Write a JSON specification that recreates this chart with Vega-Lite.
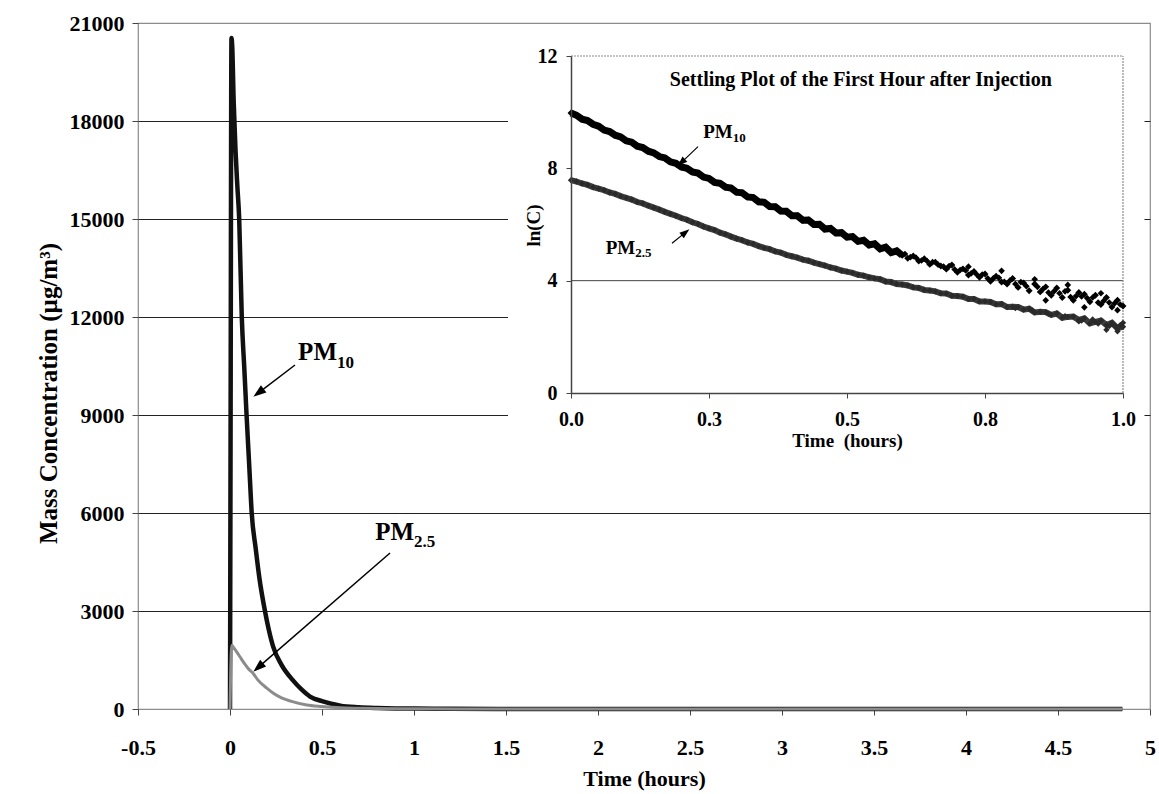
{
  "$schema": "https://vega.github.io/schema/vega-lite/v6.json",
  "autosize": {"type": "none"},
  "width": 1012,
  "height": 686,
  "padding": {"left": 138, "top": 23, "right": 9, "bottom": 85},
  "background": "white",
  "config": {
    "font": "Liberation Serif",
    "view": {"stroke": "#8c8c8c", "strokeWidth": 1.2},
    "axis": {"labelFont": "Liberation Serif", "titleFont": "Liberation Serif", "labelFontWeight": "bold", "titleFontWeight": "bold", "labelColor": "#000", "titleColor": "#000", "labelOverlap": false, "labelFlush": false}
  },
  "datasets": {
    "mainCurves": [
      {"series": "PM10", "t": 0, "c": 0}, {"series": "PM10", "t": 0.003, "c": 8000}, {"series": "PM10", "t": 0.008, "c": 20540}, {"series": "PM10", "t": 0.012, "c": 20300}, {"series": "PM10", "t": 0.02, "c": 18600}, {"series": "PM10", "t": 0.03, "c": 17100}, {"series": "PM10", "t": 0.04, "c": 16000}, {"series": "PM10", "t": 0.05, "c": 15000}, {"series": "PM10", "t": 0.064, "c": 12000}, {"series": "PM10", "t": 0.078, "c": 10400}, {"series": "PM10", "t": 0.09, "c": 9000}, {"series": "PM10", "t": 0.105, "c": 7400}, {"series": "PM10", "t": 0.118, "c": 6000}, {"series": "PM10", "t": 0.14, "c": 4900}, {"series": "PM10", "t": 0.16, "c": 4000}, {"series": "PM10", "t": 0.19, "c": 3000}, {"series": "PM10", "t": 0.21, "c": 2450}, {"series": "PM10", "t": 0.235, "c": 1900}, {"series": "PM10", "t": 0.28, "c": 1350}, {"series": "PM10", "t": 0.34, "c": 890}, {"series": "PM10", "t": 0.39, "c": 590}, {"series": "PM10", "t": 0.435, "c": 380}, {"series": "PM10", "t": 0.5, "c": 240}, {"series": "PM10", "t": 0.55, "c": 160}, {"series": "PM10", "t": 0.6, "c": 100}, {"series": "PM10", "t": 0.7, "c": 52}, {"series": "PM10", "t": 0.8, "c": 30}, {"series": "PM10", "t": 0.9, "c": 18}, {"series": "PM10", "t": 1.0, "c": 12}, {"series": "PM10", "t": 1.2, "c": 6}, {"series": "PM10", "t": 1.5, "c": 3}, {"series": "PM10", "t": 2.0, "c": 1}, {"series": "PM10", "t": 3.0, "c": 0}, {"series": "PM10", "t": 4.85, "c": 0},
      {"series": "PM2.5", "t": 0, "c": 0}, {"series": "PM2.5", "t": 0.004, "c": 1200}, {"series": "PM2.5", "t": 0.01, "c": 1950}, {"series": "PM2.5", "t": 0.02, "c": 1880}, {"series": "PM2.5", "t": 0.04, "c": 1720}, {"series": "PM2.5", "t": 0.054, "c": 1600}, {"series": "PM2.5", "t": 0.08, "c": 1380}, {"series": "PM2.5", "t": 0.1, "c": 1230}, {"series": "PM2.5", "t": 0.127, "c": 1080}, {"series": "PM2.5", "t": 0.15, "c": 900}, {"series": "PM2.5", "t": 0.2, "c": 640}, {"series": "PM2.5", "t": 0.234, "c": 490}, {"series": "PM2.5", "t": 0.28, "c": 340}, {"series": "PM2.5", "t": 0.33, "c": 240}, {"series": "PM2.5", "t": 0.417, "c": 122}, {"series": "PM2.5", "t": 0.5, "c": 75}, {"series": "PM2.5", "t": 0.6, "c": 35}, {"series": "PM2.5", "t": 0.7, "c": 20}, {"series": "PM2.5", "t": 0.8, "c": 12}, {"series": "PM2.5", "t": 1.0, "c": 6}, {"series": "PM2.5", "t": 1.5, "c": 1}, {"series": "PM2.5", "t": 2.0, "c": 0}, {"series": "PM2.5", "t": 4.85, "c": 0}
    ],
    "insetArea": [{"t": 1.511, "t2": 4.97, "c": 7316, "c2": 20800}],
    "mainPM": [{"t": 0.5815, "c": 10684, "label": "PM"}, {"t": 1.0, "c": 5173, "label": "PM"}],
    "mainSub": [{"t": 0.5815, "c": 10450, "label": "10"}, {"t": 1.0, "c": 4960, "label": "2.5"}],
    "mainArrows": [{"t": 0.3533, "c": 10531, "t2": 0.1549, "c2": 9680}, {"t": 0.8696, "c": 4775, "t2": 0.1533, "c2": 1273}],
    "insetPM10": [
      {"t": 0.00, "v": 9.97}, {"t": 0.01, "v": 9.89}, {"t": 0.02, "v": 9.75}, {"t": 0.03, "v": 9.70}, {"t": 0.04, "v": 9.57}, {"t": 0.05, "v": 9.50}, {"t": 0.06, "v": 9.36}, {"t": 0.07, "v": 9.31}, {"t": 0.08, "v": 9.18}, {"t": 0.09, "v": 9.12},
      {"t": 0.10, "v": 8.98}, {"t": 0.11, "v": 8.93}, {"t": 0.12, "v": 8.79}, {"t": 0.13, "v": 8.74}, {"t": 0.14, "v": 8.61}, {"t": 0.15, "v": 8.55}, {"t": 0.16, "v": 8.42}, {"t": 0.17, "v": 8.37}, {"t": 0.18, "v": 8.23}, {"t": 0.19, "v": 8.18},
      {"t": 0.20, "v": 8.05}, {"t": 0.21, "v": 8.00}, {"t": 0.22, "v": 7.87}, {"t": 0.23, "v": 7.83}, {"t": 0.24, "v": 7.69}, {"t": 0.25, "v": 7.64}, {"t": 0.26, "v": 7.50}, {"t": 0.27, "v": 7.47}, {"t": 0.28, "v": 7.33}, {"t": 0.29, "v": 7.30},
      {"t": 0.30, "v": 7.15}, {"t": 0.31, "v": 7.13}, {"t": 0.32, "v": 6.98}, {"t": 0.33, "v": 6.96}, {"t": 0.34, "v": 6.81}, {"t": 0.35, "v": 6.79}, {"t": 0.36, "v": 6.64}, {"t": 0.37, "v": 6.63}, {"t": 0.38, "v": 6.48}, {"t": 0.39, "v": 6.47},
      {"t": 0.40, "v": 6.31}, {"t": 0.41, "v": 6.31}, {"t": 0.42, "v": 6.15}, {"t": 0.43, "v": 6.16}, {"t": 0.44, "v": 6.00}, {"t": 0.45, "v": 6.01}, {"t": 0.46, "v": 5.84}, {"t": 0.47, "v": 5.86}, {"t": 0.48, "v": 5.70}, {"t": 0.49, "v": 5.71},
      {"t": 0.50, "v": 5.55}, {"t": 0.51, "v": 5.57}, {"t": 0.52, "v": 5.40}, {"t": 0.53, "v": 5.44}, {"t": 0.54, "v": 5.27}, {"t": 0.55, "v": 5.31}, {"t": 0.56, "v": 5.13}, {"t": 0.57, "v": 5.19}, {"t": 0.58, "v": 5.00}, {"t": 0.59, "v": 5.06},
      {"t": 0.60, "v": 4.90}, {"t": 0.61, "v": 4.80}, {"t": 0.62, "v": 4.88}, {"t": 0.63, "v": 4.70}, {"t": 0.64, "v": 4.78}, {"t": 0.65, "v": 4.58}, {"t": 0.66, "v": 4.66}, {"t": 0.67, "v": 4.52}, {"t": 0.68, "v": 4.41}, {"t": 0.69, "v": 4.56},
      {"t": 0.70, "v": 4.30}, {"t": 0.71, "v": 4.42}, {"t": 0.72, "v": 4.20}, {"t": 0.73, "v": 4.33}, {"t": 0.74, "v": 4.12}, {"t": 0.75, "v": 4.24}, {"t": 0.76, "v": 3.98}, {"t": 0.77, "v": 4.16}, {"t": 0.78, "v": 3.95}, {"t": 0.79, "v": 3.88},
      {"t": 0.80, "v": 4.08}, {"t": 0.81, "v": 3.76}, {"t": 0.82, "v": 3.92}, {"t": 0.83, "v": 3.64}, {"t": 0.84, "v": 3.88}, {"t": 0.85, "v": 3.60}, {"t": 0.86, "v": 3.78}, {"t": 0.87, "v": 3.48}, {"t": 0.88, "v": 3.74}, {"t": 0.89, "v": 3.40},
      {"t": 0.90, "v": 3.66}, {"t": 0.91, "v": 3.30}, {"t": 0.92, "v": 3.58}, {"t": 0.93, "v": 3.52}, {"t": 0.94, "v": 3.25}, {"t": 0.95, "v": 3.48}, {"t": 0.96, "v": 3.15}, {"t": 0.97, "v": 3.40}, {"t": 0.98, "v": 3.06}, {"t": 0.99, "v": 3.30}, {"t": 1.00, "v": 3.10}
    ],
    "insetPM10Extra": [
      {"t": 0.72, "v": 4.50}, {"t": 0.78, "v": 4.35}, {"t": 0.84, "v": 4.05}, {"t": 0.86, "v": 3.30}, {"t": 0.90, "v": 3.85}, {"t": 0.93, "v": 3.05}, {"t": 0.96, "v": 3.55}, {"t": 0.99, "v": 2.95}, {"t": 0.815, "v": 3.95}, {"t": 0.875, "v": 3.62}, {"t": 0.935, "v": 3.38}, {"t": 0.965, "v": 3.28}, {"t": 0.985, "v": 3.20},
      {"t": 0.645, "v": 4.70}, {"t": 0.675, "v": 4.50}, {"t": 0.705, "v": 4.38}, {"t": 0.735, "v": 4.22}, {"t": 0.765, "v": 4.08}, {"t": 0.795, "v": 4.00}, {"t": 0.825, "v": 3.80}, {"t": 0.855, "v": 3.70}, {"t": 0.885, "v": 3.55}, {"t": 0.915, "v": 3.45}, {"t": 0.945, "v": 3.40}, {"t": 0.975, "v": 3.22}, {"t": 0.995, "v": 3.15},
      {"t": 0.605, "v": 4.95}, {"t": 0.615, "v": 4.84}, {"t": 0.625, "v": 4.82}, {"t": 0.635, "v": 4.72}, {"t": 0.655, "v": 4.66}, {"t": 0.665, "v": 4.57}, {"t": 0.685, "v": 4.52}, {"t": 0.695, "v": 4.40}, {"t": 0.715, "v": 4.36}, {"t": 0.725, "v": 4.26}, {"t": 0.745, "v": 4.22}, {"t": 0.755, "v": 4.08}, {"t": 0.775, "v": 4.10}, {"t": 0.785, "v": 3.96}, {"t": 0.805, "v": 3.88}, {"t": 0.845, "v": 3.78}, {"t": 0.865, "v": 3.58}, {"t": 0.895, "v": 3.62}, {"t": 0.905, "v": 3.42}, {"t": 0.925, "v": 3.44}, {"t": 0.955, "v": 3.22}
    ],
    "insetPM25": [
      {"t": 0.00, "v": 7.58}, {"t": 0.01, "v": 7.53}, {"t": 0.02, "v": 7.46}, {"t": 0.03, "v": 7.41}, {"t": 0.04, "v": 7.33}, {"t": 0.05, "v": 7.28}, {"t": 0.06, "v": 7.22}, {"t": 0.07, "v": 7.14}, {"t": 0.08, "v": 7.09}, {"t": 0.09, "v": 7.01},
      {"t": 0.10, "v": 6.95}, {"t": 0.11, "v": 6.89}, {"t": 0.12, "v": 6.80}, {"t": 0.13, "v": 6.75}, {"t": 0.14, "v": 6.67}, {"t": 0.15, "v": 6.60}, {"t": 0.16, "v": 6.53}, {"t": 0.17, "v": 6.45}, {"t": 0.18, "v": 6.38}, {"t": 0.19, "v": 6.31},
      {"t": 0.20, "v": 6.23}, {"t": 0.21, "v": 6.17}, {"t": 0.22, "v": 6.08}, {"t": 0.23, "v": 6.02}, {"t": 0.24, "v": 5.93}, {"t": 0.25, "v": 5.86}, {"t": 0.26, "v": 5.80}, {"t": 0.27, "v": 5.71}, {"t": 0.28, "v": 5.65}, {"t": 0.29, "v": 5.57},
      {"t": 0.30, "v": 5.50}, {"t": 0.31, "v": 5.44}, {"t": 0.32, "v": 5.36}, {"t": 0.33, "v": 5.31}, {"t": 0.34, "v": 5.23}, {"t": 0.35, "v": 5.17}, {"t": 0.36, "v": 5.12}, {"t": 0.37, "v": 5.04}, {"t": 0.38, "v": 5.00}, {"t": 0.39, "v": 4.92},
      {"t": 0.40, "v": 4.87}, {"t": 0.41, "v": 4.82}, {"t": 0.42, "v": 4.75}, {"t": 0.43, "v": 4.71}, {"t": 0.44, "v": 4.64}, {"t": 0.45, "v": 4.59}, {"t": 0.46, "v": 4.54}, {"t": 0.47, "v": 4.47}, {"t": 0.48, "v": 4.43}, {"t": 0.49, "v": 4.36},
      {"t": 0.50, "v": 4.32}, {"t": 0.51, "v": 4.28}, {"t": 0.52, "v": 4.21}, {"t": 0.53, "v": 4.18}, {"t": 0.54, "v": 4.12}, {"t": 0.55, "v": 4.08}, {"t": 0.56, "v": 4.05}, {"t": 0.57, "v": 3.97}, {"t": 0.58, "v": 3.95}, {"t": 0.59, "v": 3.88},
      {"t": 0.60, "v": 3.86}, {"t": 0.61, "v": 3.83}, {"t": 0.62, "v": 3.76}, {"t": 0.63, "v": 3.74}, {"t": 0.64, "v": 3.67}, {"t": 0.65, "v": 3.65}, {"t": 0.66, "v": 3.62}, {"t": 0.67, "v": 3.55}, {"t": 0.68, "v": 3.54}, {"t": 0.69, "v": 3.46},
      {"t": 0.70, "v": 3.45}, {"t": 0.71, "v": 3.43}, {"t": 0.72, "v": 3.35}, {"t": 0.73, "v": 3.35}, {"t": 0.74, "v": 3.26}, {"t": 0.75, "v": 3.26}, {"t": 0.76, "v": 3.24}, {"t": 0.77, "v": 3.16}, {"t": 0.78, "v": 3.17}, {"t": 0.79, "v": 3.06},
      {"t": 0.80, "v": 3.07}, {"t": 0.81, "v": 3.06}, {"t": 0.82, "v": 2.97}, {"t": 0.83, "v": 3.00}, {"t": 0.84, "v": 2.87}, {"t": 0.85, "v": 2.89}, {"t": 0.86, "v": 2.88}, {"t": 0.87, "v": 2.78}, {"t": 0.88, "v": 2.83}, {"t": 0.89, "v": 2.68},
      {"t": 0.90, "v": 2.71}, {"t": 0.91, "v": 2.72}, {"t": 0.92, "v": 2.60}, {"t": 0.93, "v": 2.66}, {"t": 0.94, "v": 2.48}, {"t": 0.95, "v": 2.53}, {"t": 0.96, "v": 2.58}, {"t": 0.97, "v": 2.42}, {"t": 0.98, "v": 2.50}, {"t": 0.99, "v": 2.30}, {"t": 1.00, "v": 2.36}
    ],
    "insetPM25Extra": [
      {"t": 0.97, "v": 2.25}, {"t": 0.99, "v": 2.20}, {"t": 0.92, "v": 2.55}, {"t": 1.00, "v": 2.50}, {"t": 0.945, "v": 2.62}, {"t": 0.985, "v": 2.40},
      {"t": 0.805, "v": 3.02}, {"t": 0.835, "v": 2.95}, {"t": 0.865, "v": 2.82}, {"t": 0.895, "v": 2.74}, {"t": 0.925, "v": 2.58}, {"t": 0.955, "v": 2.47}, {"t": 0.975, "v": 2.38}, {"t": 0.995, "v": 2.42}
    ],
    "insetPM": [{"t": 0.293, "v": 9.09, "label": "PM"}, {"t": 0.1163, "v": 4.95, "label": "PM"}],
    "insetSub": [{"t": 0.293, "v": 8.95, "label": "10"}, {"t": 0.1163, "v": 4.83, "label": "2.5"}],
    "insetArrows": [{"t": 0.2301, "v": 8.771, "t2": 0.1998, "v2": 8.205}, {"t": 0.183, "v": 5.331, "t2": 0.2074, "v2": 5.719}],
    "insetTitle": [{"t": 0.525, "v": 11.15, "label": "Settling Plot of the First Hour after Injection"}],
    "insetGrid": [{"t": 0, "t2": 1, "v": 4}],
    "insetTop": [{"t": 0, "t2": 1, "v": 12}],
    "insetRight": [{"t": 1, "v": 0, "v2": 12}]
  },
  "layer": [
    {
      "layer": [
        {
          "data": {"name": "mainCurves"},
          "mark": {"type": "line", "interpolate": "monotone", "strokeJoin": "round"},
          "encoding": {
            "x": {
              "field": "t", "type": "quantitative", "title": "Time (hours)",
              "scale": {"domain": [-0.5, 5], "nice": false, "zero": false},
              "axis": {"values": [-0.5, 0, 0.5, 1, 1.5, 2, 2.5, 3, 3.5, 4, 4.5, 5], "labelExpr": "'' + datum.value", "grid": false, "domain": false, "tickColor": "#444", "tickSize": 6, "labelFontSize": 22, "labelPadding": 22, "titleFontSize": 22, "titlePadding": 10}
            },
            "y": {
              "field": "c", "type": "quantitative", "title": "Mass Concentration (µg/m³)",
              "scale": {"domain": [0, 21000], "nice": false},
              "axis": {"values": [0, 3000, 6000, 9000, 12000, 15000, 18000, 21000], "labelExpr": "'' + datum.value", "grid": true, "gridColor": {"condition": {"test": "datum.value === 0 || datum.value === 21000", "value": "transparent"}, "value": "#222222"}, "gridWidth": 1, "domain": false, "tickColor": "#444", "tickSize": 6, "labelFontSize": 22, "labelPadding": 8, "titleFontSize": 25, "titleX": -90, "titleY": 370, "titleAlign": "center", "titleBaseline": "middle", "titleAngle": -90}
            },
            "color": {"field": "series", "type": "nominal", "scale": {"domain": ["PM10", "PM2.5"], "range": ["#111111", "#8c8c8c"]}, "legend": null},
            "strokeWidth": {"field": "series", "type": "nominal", "scale": {"domain": ["PM10", "PM2.5"], "range": [4.5, 3]}, "legend": null}
          }
        },
        {
          "data": {"name": "insetArea"},
          "mark": {"type": "rect", "fill": "white", "stroke": null},
          "encoding": {
            "x": {"field": "t", "type": "quantitative", "title": "Time (hours)"}, "x2": {"field": "t2"},
            "y": {"field": "c", "type": "quantitative", "title": "Mass Concentration (µg/m³)"}, "y2": {"field": "c2"}
          }
        },
        {
          "data": {"name": "mainPM"},
          "mark": {"type": "text", "align": "right", "baseline": "alphabetic", "fontSize": 25, "fontWeight": "bold", "font": "Liberation Serif", "color": "#000"},
          "encoding": {
            "x": {"field": "t", "type": "quantitative", "title": "Time (hours)"},
            "y": {"field": "c", "type": "quantitative", "title": "Mass Concentration (µg/m³)"},
            "text": {"field": "label"}
          }
        },
        {
          "data": {"name": "mainSub"},
          "mark": {"type": "text", "align": "left", "baseline": "alphabetic", "fontSize": 17, "fontWeight": "bold", "font": "Liberation Serif", "color": "#000"},
          "encoding": {
            "x": {"field": "t", "type": "quantitative", "title": "Time (hours)"},
            "y": {"field": "c", "type": "quantitative", "title": "Mass Concentration (µg/m³)"},
            "text": {"field": "label"}
          }
        },
        {
          "data": {"name": "mainArrows"},
          "mark": {"type": "rule", "color": "#000", "strokeWidth": 1.5},
          "encoding": {
            "x": {"field": "t", "type": "quantitative", "title": "Time (hours)"}, "x2": {"field": "t2"},
            "y": {"field": "c", "type": "quantitative", "title": "Mass Concentration (µg/m³)"}, "y2": {"field": "c2"}
          }
        },
        {
          "data": {"values": [{"t": 0.1549, "c": 9680}]},
          "mark": {"type": "point", "shape": "M0,-1L0.7,1L-0.7,1Z", "filled": true, "size": 169, "color": "#000", "opacity": 1, "angle": -127.2},
          "encoding": {
            "x": {"field": "t", "type": "quantitative", "title": "Time (hours)"},
            "y": {"field": "c", "type": "quantitative", "title": "Mass Concentration (µg/m³)"}
          }
        },
        {
          "data": {"values": [{"t": 0.1533, "c": 1273}]},
          "mark": {"type": "point", "shape": "M0,-1L0.7,1L-0.7,1Z", "filled": true, "size": 169, "color": "#000", "opacity": 1, "angle": -131.0},
          "encoding": {
            "x": {"field": "t", "type": "quantitative", "title": "Time (hours)"},
            "y": {"field": "c", "type": "quantitative", "title": "Mass Concentration (µg/m³)"}
          }
        }
      ]
    },
    {
      "layer": [
        {
          "data": {"name": "insetGrid"},
          "mark": {"type": "rule", "color": "#444", "strokeWidth": 1},
          "encoding": {
            "x": {
              "field": "t", "type": "quantitative", "title": "Time\u00a0\u00a0(hours)",
              "scale": {"domain": [0, 1], "range": [433, 985], "nice": false, "zero": false},
              "axis": {"orient": "bottom", "offset": -316, "zindex": 1, "values": [0, 0.25, 0.5, 0.75, 1], "format": ".1f", "grid": false, "domain": true, "domainColor": "#444", "domainWidth": 1.5, "tickColor": "#444", "tickSize": 5, "labelFontSize": 20, "labelPadding": 11, "titleFontSize": 19, "titlePadding": 2}
            },
            "x2": {"field": "t2"},
            "y": {
              "field": "v", "type": "quantitative", "title": "ln(C)",
              "scale": {"domain": [0, 12], "range": [370, 33], "nice": false, "zero": false},
              "axis": {"orient": "left", "offset": -433, "zindex": 1, "values": [0, 4, 8, 12], "format": "d", "grid": false, "domain": true, "domainColor": "#444", "domainWidth": 1.5, "tickColor": "#444", "tickSize": 5, "labelFontSize": 20, "labelPadding": 9, "titleFontSize": 19, "titleX": -38, "titleY": 202, "titleAlign": "center", "titleBaseline": "middle", "titleAngle": -90}
            }
          }
        },
        {
          "data": {"name": "insetTop"},
          "mark": {"type": "rule", "color": "#8c8c8c", "strokeWidth": 1.2, "strokeDash": [2, 1]},
          "encoding": {
            "x": {"field": "t", "type": "quantitative", "title": "Time\u00a0\u00a0(hours)"}, "x2": {"field": "t2"},
            "y": {"field": "v", "type": "quantitative", "title": "ln(C)"}
          }
        },
        {
          "data": {"name": "insetRight"},
          "mark": {"type": "rule", "color": "#8c8c8c", "strokeWidth": 1.2, "strokeDash": [2, 1]},
          "encoding": {
            "x": {"field": "t", "type": "quantitative", "title": "Time\u00a0\u00a0(hours)"},
            "y": {"field": "v", "type": "quantitative", "title": "ln(C)"}, "y2": {"field": "v2"}
          }
        },
        {
          "data": {"name": "insetPM25"},
          "mark": {"type": "line", "color": "#3c3c3c", "strokeWidth": 6},
          "encoding": {
            "x": {"field": "t", "type": "quantitative", "title": "Time\u00a0\u00a0(hours)"},
            "y": {"field": "v", "type": "quantitative", "title": "ln(C)"}
          }
        },
        {
          "data": {"name": "insetPM25"},
          "mark": {"type": "point", "shape": "diamond", "filled": true, "size": 40, "color": "#2a2a2a", "opacity": 1},
          "encoding": {
            "x": {"field": "t", "type": "quantitative", "title": "Time\u00a0\u00a0(hours)"},
            "y": {"field": "v", "type": "quantitative", "title": "ln(C)"}
          }
        },
        {
          "data": {"name": "insetPM25Extra"},
          "mark": {"type": "point", "shape": "diamond", "filled": true, "size": 40, "color": "#2a2a2a", "opacity": 1},
          "encoding": {
            "x": {"field": "t", "type": "quantitative", "title": "Time\u00a0\u00a0(hours)"},
            "y": {"field": "v", "type": "quantitative", "title": "ln(C)"}
          }
        },
        {
          "data": {"name": "insetPM10"},
          "transform": [{"filter": "datum.t <= 0.6"}],
          "mark": {"type": "line", "color": "#000", "strokeWidth": 7},
          "encoding": {
            "x": {"field": "t", "type": "quantitative", "title": "Time\u00a0\u00a0(hours)"},
            "y": {"field": "v", "type": "quantitative", "title": "ln(C)"}
          }
        },
        {
          "data": {"name": "insetPM10"},
          "mark": {"type": "point", "shape": "diamond", "filled": true, "size": 48, "color": "#000", "opacity": 1},
          "encoding": {
            "x": {"field": "t", "type": "quantitative", "title": "Time\u00a0\u00a0(hours)"},
            "y": {"field": "v", "type": "quantitative", "title": "ln(C)"}
          }
        },
        {
          "data": {"name": "insetPM10Extra"},
          "mark": {"type": "point", "shape": "diamond", "filled": true, "size": 44, "color": "#000", "opacity": 1},
          "encoding": {
            "x": {"field": "t", "type": "quantitative", "title": "Time\u00a0\u00a0(hours)"},
            "y": {"field": "v", "type": "quantitative", "title": "ln(C)"}
          }
        },
        {
          "data": {"name": "insetTitle"},
          "mark": {"type": "text", "align": "center", "baseline": "middle", "fontSize": 20, "fontWeight": "bold", "font": "Liberation Serif", "color": "#000"},
          "encoding": {
            "x": {"field": "t", "type": "quantitative", "title": "Time\u00a0\u00a0(hours)"},
            "y": {"field": "v", "type": "quantitative", "title": "ln(C)"},
            "text": {"field": "label"}
          }
        },
        {
          "data": {"name": "insetPM"},
          "mark": {"type": "text", "align": "right", "baseline": "alphabetic", "fontSize": 19, "fontWeight": "bold", "font": "Liberation Serif", "color": "#000"},
          "encoding": {
            "x": {"field": "t", "type": "quantitative", "title": "Time\u00a0\u00a0(hours)"},
            "y": {"field": "v", "type": "quantitative", "title": "ln(C)"},
            "text": {"field": "label"}
          }
        },
        {
          "data": {"name": "insetSub"},
          "mark": {"type": "text", "align": "left", "baseline": "alphabetic", "fontSize": 13, "fontWeight": "bold", "font": "Liberation Serif", "color": "#000"},
          "encoding": {
            "x": {"field": "t", "type": "quantitative", "title": "Time\u00a0\u00a0(hours)"},
            "y": {"field": "v", "type": "quantitative", "title": "ln(C)"},
            "text": {"field": "label"}
          }
        },
        {
          "data": {"name": "insetArrows"},
          "mark": {"type": "rule", "color": "#000", "strokeWidth": 1.2},
          "encoding": {
            "x": {"field": "t", "type": "quantitative", "title": "Time\u00a0\u00a0(hours)"}, "x2": {"field": "t2"},
            "y": {"field": "v", "type": "quantitative", "title": "ln(C)"}, "y2": {"field": "v2"}
          }
        },
        {
          "data": {"values": [{"t": 0.1998, "v": 8.205}]},
          "mark": {"type": "point", "shape": "M0,-1L0.7,1L-0.7,1Z", "filled": true, "size": 100, "color": "#000", "opacity": 1, "angle": -133.5},
          "encoding": {
            "x": {"field": "t", "type": "quantitative", "title": "Time\u00a0\u00a0(hours)"},
            "y": {"field": "v", "type": "quantitative", "title": "ln(C)"}
          }
        },
        {
          "data": {"values": [{"t": 0.2074, "v": 5.719}]},
          "mark": {"type": "point", "shape": "M0,-1L0.7,1L-0.7,1Z", "filled": true, "size": 100, "color": "#000", "opacity": 1, "angle": 51.2},
          "encoding": {
            "x": {"field": "t", "type": "quantitative", "title": "Time\u00a0\u00a0(hours)"},
            "y": {"field": "v", "type": "quantitative", "title": "ln(C)"}
          }
        }
      ]
    }
  ],
  "resolve": {"scale": {"x": "independent", "y": "independent"}}
}
